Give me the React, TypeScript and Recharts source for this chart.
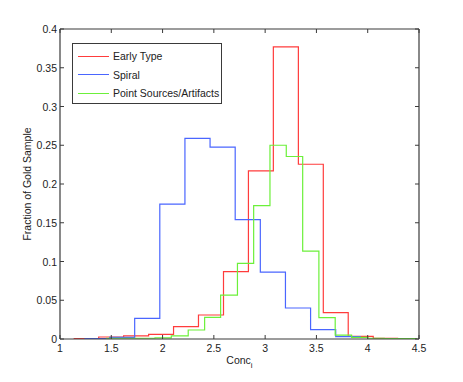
import React from 'react';
import { LineChart, Line, XAxis, YAxis, Label } from 'recharts';

// bin left edges + the closing right edge, values per bin
const earlyEdges = [1.133, 1.377, 1.62, 1.864, 2.107, 2.35, 2.594, 2.837, 3.08, 3.324, 3.567, 3.81, 4.054, 4.297];
const earlyValues = [0.0005, 0.0026, 0.004, 0.006, 0.016, 0.031, 0.087, 0.217, 0.377, 0.2255, 0.034, 0.0035, 0.001];

const spiralEdges = [1.238, 1.483, 1.728, 1.973, 2.218, 2.463, 2.708, 2.953, 3.198, 3.443, 3.688, 3.933];
const spiralValues = [0.0005, 0.002, 0.0266, 0.174, 0.259, 0.2475, 0.154, 0.0864, 0.04, 0.012, 0.003];

const pointEdges = [1.449, 1.608, 1.767, 1.926, 2.085, 2.25, 2.41, 2.566, 2.73, 2.888, 3.047, 3.206, 3.366, 3.524, 3.683, 3.843, 4.002, 4.161, 4.32, 4.479];
const pointValues = [0.001, 0.001, 0.001, 0.0015, 0.004, 0.0116, 0.028, 0.0567, 0.0975, 0.172, 0.25, 0.2355, 0.1134, 0.0275, 0.005, 0.002, 0.001, 0.0005, 0.0005];

const xTicks = [1, 1.5, 2, 2.5, 3, 3.5, 4, 4.5];
const yTicks = [0, 0.05, 0.1, 0.15, 0.2, 0.25, 0.3, 0.35, 0.4];

const seriesNames = ['Early Type', 'Spiral', 'Point Sources/Artifacts'];

const RED = '#ff3c3c';
const BLUE = '#4a66ff';
const GREEN = '#6cf03a';
const FRAME = '#3a3a3a';
const FONT = '"Liberation Sans", Arial, sans-serif';

const toStairs = (edges: number[], values: number[]) => {
  const pts = values.map((v, i) => ({ x: edges[i], y: v }));
  pts.push({ x: edges[edges.length - 1], y: values[values.length - 1] });
  return pts;
};

const earlyData = toStairs(earlyEdges, earlyValues);
const spiralData = toStairs(spiralEdges, spiralValues);
const pointData = toStairs(pointEdges, pointValues);

const fmt = (v: number) => (v === 0 ? '0' : String(v));

const BottomTick = (props: any) => {
  const { x, y, payload } = props;
  return (
    <g>
      <line x1={x} x2={x} y1={y} y2={y - 4} stroke={FRAME} />
      <text x={x} y={y + 13} textAnchor="middle" fontSize={10.5} fontFamily={FONT} fill="#222">{fmt(payload.value)}</text>
    </g>
  );
};

const TopTick = (props: any) => {
  const { x, y } = props;
  return <line x1={x} x2={x} y1={y} y2={y + 4} stroke={FRAME} />;
};

const LeftTick = (props: any) => {
  const { x, y, payload } = props;
  return (
    <g>
      <line x1={x} x2={x + 4} y1={y} y2={y} stroke={FRAME} />
      <text x={x - 3} y={y + 4} textAnchor="end" fontSize={10.5} fontFamily={FONT} fill="#222">{fmt(payload.value)}</text>
    </g>
  );
};

const RightTick = (props: any) => {
  const { x, y } = props;
  return <line x1={x} x2={x - 4} y1={y} y2={y} stroke={FRAME} />;
};

const LegendBox = () => {
  const colors = [RED, BLUE, GREEN];
  return (
    <div style={{ position: 'absolute', left: 72, top: 43, width: 150, height: 61, border: `1.5px solid ${FRAME}`, background: '#fff', boxSizing: 'border-box', padding: '3px 0 0 5px', fontFamily: FONT, fontSize: 10.5, color: '#222', whiteSpace: 'nowrap' }}>
      {seriesNames.map((name, i) => (
        <div key={name} style={{ display: 'flex', alignItems: 'center', height: 18.5 }}>
          <span style={{ display: 'inline-block', width: 31, height: 0, borderTop: `1.5px solid ${colors[i]}`, marginRight: 4 }} />
          <span>{name}</span>
        </div>
      ))}
    </div>
  );
};

export default function App() {
  return (
    <div style={{ position: 'absolute', left: 0, top: 0, width: 463, height: 382, background: '#fff' }}>
      <LineChart width={463} height={382} margin={{ top: 0, right: 0, bottom: 0, left: 0 }}>
        <XAxis
          xAxisId="bottom"
          dataKey="x"
          type="number"
          domain={[1, 4.5]}
          ticks={xTicks}
          allowDataOverflow
          height={43}
          tickSize={0}
          tickMargin={0}
          tickLine={false}
          axisLine={{ stroke: FRAME, strokeWidth: 1.2 }}
          tick={<BottomTick />}
        >
          <Label
            content={(p: any) => {
              const vb = p.viewBox;
              return (
                <text x={vb.x + vb.width / 2} y={vb.y + 25} textAnchor="middle" fontSize={10.5} fontFamily={FONT} fill="#222">
                  Conc<tspan fontSize={8} dy={4}>i</tspan>
                </text>
              );
            }}
          />
        </XAxis>
        <XAxis
          xAxisId="top"
          orientation="top"
          dataKey="x"
          type="number"
          domain={[1, 4.5]}
          ticks={xTicks}
          allowDataOverflow
          height={29}
          tickSize={0}
          tickMargin={0}
          tickLine={false}
          axisLine={{ stroke: FRAME, strokeWidth: 1.2 }}
          tick={<TopTick />}
        />
        <YAxis
          yAxisId="left"
          type="number"
          domain={[0, 0.4]}
          ticks={yTicks}
          allowDataOverflow
          width={60}
          tickSize={0}
          tickMargin={0}
          tickLine={false}
          axisLine={{ stroke: FRAME, strokeWidth: 1.2 }}
          tick={<LeftTick />}
        >
          <Label
            content={(p: any) => {
              const vb = p.viewBox;
              const cx = 27;
              const cy = vb.y + vb.height / 2;
              return (
                <text x={cx} y={cy} transform={`rotate(-90 ${cx} ${cy})`} textAnchor="middle" dominantBaseline="central" fontSize={10.5} fontFamily={FONT} fill="#222">
                  Fraction of Gold Sample
                </text>
              );
            }}
          />
        </YAxis>
        <YAxis
          yAxisId="right"
          orientation="right"
          type="number"
          domain={[0, 0.4]}
          ticks={yTicks}
          allowDataOverflow
          width={44}
          tickSize={0}
          tickMargin={0}
          tickLine={false}
          axisLine={{ stroke: FRAME, strokeWidth: 1.2 }}
          tick={<RightTick />}
        />
        <Line xAxisId="bottom" yAxisId="left" data={earlyData} dataKey="y" name={seriesNames[0]} type="stepAfter" stroke={RED} strokeWidth={1.2} dot={false} isAnimationActive={false} />
        <Line xAxisId="bottom" yAxisId="left" data={spiralData} dataKey="y" name={seriesNames[1]} type="stepAfter" stroke={BLUE} strokeWidth={1.2} dot={false} isAnimationActive={false} />
        <Line xAxisId="bottom" yAxisId="left" data={pointData} dataKey="y" name={seriesNames[2]} type="stepAfter" stroke={GREEN} strokeWidth={1.2} dot={false} isAnimationActive={false} />
      </LineChart>
      <LegendBox />
    </div>
  );
}
